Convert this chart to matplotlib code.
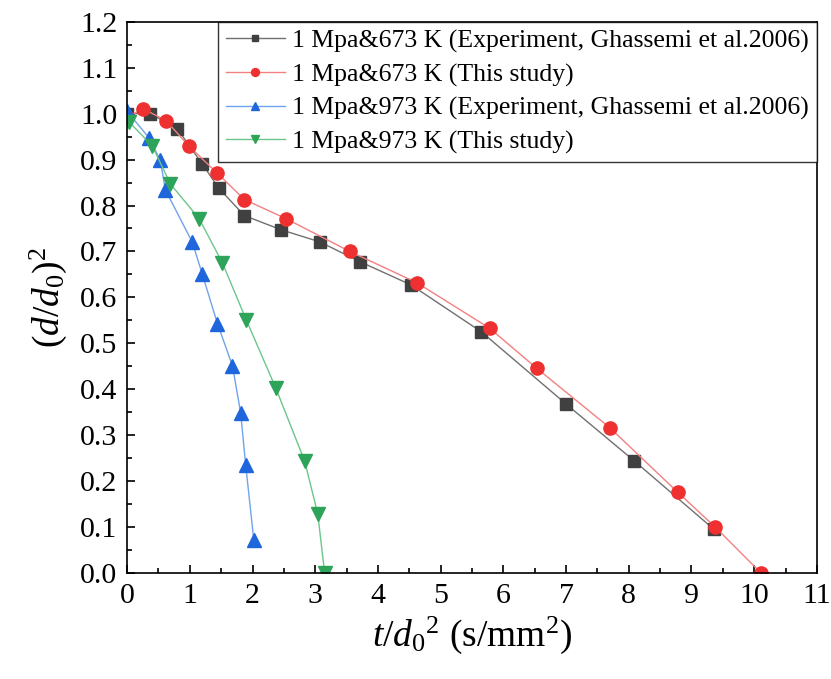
import matplotlib.pyplot as plt
from matplotlib.ticker import MultipleLocator

plt.rcParams['font.family'] = ['Liberation Serif', 'DejaVu Serif']
plt.rcParams['mathtext.fontset'] = 'custom'
plt.rcParams['mathtext.rm'] = 'Liberation Serif'
plt.rcParams['mathtext.it'] = 'Liberation Serif:italic'

# 1 MPa & 673 K, experiment (Ghassemi et al. 2006)
exp673_x = [0.0, 0.37, 0.80, 1.20, 1.46, 1.87, 2.46, 3.07, 3.71, 4.53, 5.65, 7.00, 8.08, 9.36]
exp673_y = [1.0, 1.0, 0.967, 0.890, 0.838, 0.778, 0.747, 0.721, 0.678, 0.627, 0.525, 0.368, 0.245, 0.095]

# 1 MPa & 673 K, this study
sim673_x = [0.0, 0.26, 0.62, 0.98, 1.44, 1.87, 2.54, 3.55, 4.62, 5.78, 6.53, 7.70, 8.78, 9.38, 10.11]
sim673_y = [0.993, 1.01, 0.985, 0.930, 0.870, 0.813, 0.771, 0.700, 0.632, 0.533, 0.446, 0.316, 0.176, 0.100, 0.0]

# 1 MPa & 973 K, experiment (Ghassemi et al. 2006)
exp973_x = [0.0, 0.35, 0.53, 0.61, 1.04, 1.20, 1.44, 1.68, 1.81, 1.89, 2.02]
exp973_y = [1.005, 0.947, 0.898, 0.834, 0.720, 0.650, 0.543, 0.451, 0.349, 0.236, 0.072]

# 1 MPa & 973 K, this study
sim973_x = [0.03, 0.40, 0.69, 1.15, 1.52, 1.90, 2.37, 2.83, 3.04, 3.15]
sim973_y = [0.982, 0.930, 0.847, 0.771, 0.675, 0.551, 0.403, 0.244, 0.129, 0.0]

labels = ['1 Mpa&673 K (Experiment, Ghassemi et al.2006)',
          '1 Mpa&673 K (This study)',
          '1 Mpa&973 K (Experiment, Ghassemi et al.2006)',
          '1 Mpa&973 K (This study)']

fig = plt.figure(figsize=(8.31, 6.79), dpi=100)
ax = fig.add_axes([0.153, 0.156, 0.830, 0.812])

ax.plot(exp673_x, exp673_y, color='#707070', lw=1, marker='s', ms=8,
        mfc='#404040', mec='#404040', label=labels[0])
ax.plot(sim673_x, sim673_y, color='#f28080', lw=1, marker='o', ms=9.5,
        mfc='#ee3030', mec='#ee3030', label=labels[1])
ax.plot(exp973_x, exp973_y, color='#6fa3ec', lw=1, marker='^', ms=9.5,
        mfc='#1f66dd', mec='#1f66dd', label=labels[2])
ax.plot(sim973_x, sim973_y, color='#6cc68a', lw=1, marker='v', ms=9.5,
        mfc='#2ea35a', mec='#2ea35a', label=labels[3])

ax.set_xlim(0, 11)
ax.set_ylim(0, 1.2)
ax.xaxis.set_major_locator(MultipleLocator(1))
ax.xaxis.set_minor_locator(MultipleLocator(0.5))
ax.yaxis.set_major_locator(MultipleLocator(0.1))
ax.yaxis.set_minor_locator(MultipleLocator(0.05))
ax.yaxis.set_major_formatter(plt.FormatStrFormatter('%.1f'))
ax.tick_params(which='both', direction='in', top=False, right=False, labelsize=21.5, width=1.2)
ax.tick_params(which='major', length=6, pad=7)
ax.tick_params(which='minor', length=3.5)
for s in ax.spines.values():
    s.set_linewidth(1.2)

ax.set_xlabel(r'$\it{t}/\it{d}_0{}^2$ (s/mm$^2$)', fontsize=27, labelpad=4)
ax.set_ylabel(r'$(\it{d}/\it{d}_0)^2$', fontsize=27, labelpad=8)

leg = ax.legend(loc='upper right', fontsize=18.5, frameon=True, fancybox=False,
                edgecolor='black', borderaxespad=0.0, handlelength=2.3,
                handletextpad=0.3, labelspacing=0.4, markerscale=0.6,
                borderpad=0.3)
leg.get_frame().set_linewidth(1.0)

plt.savefig('out.png', dpi=100)
